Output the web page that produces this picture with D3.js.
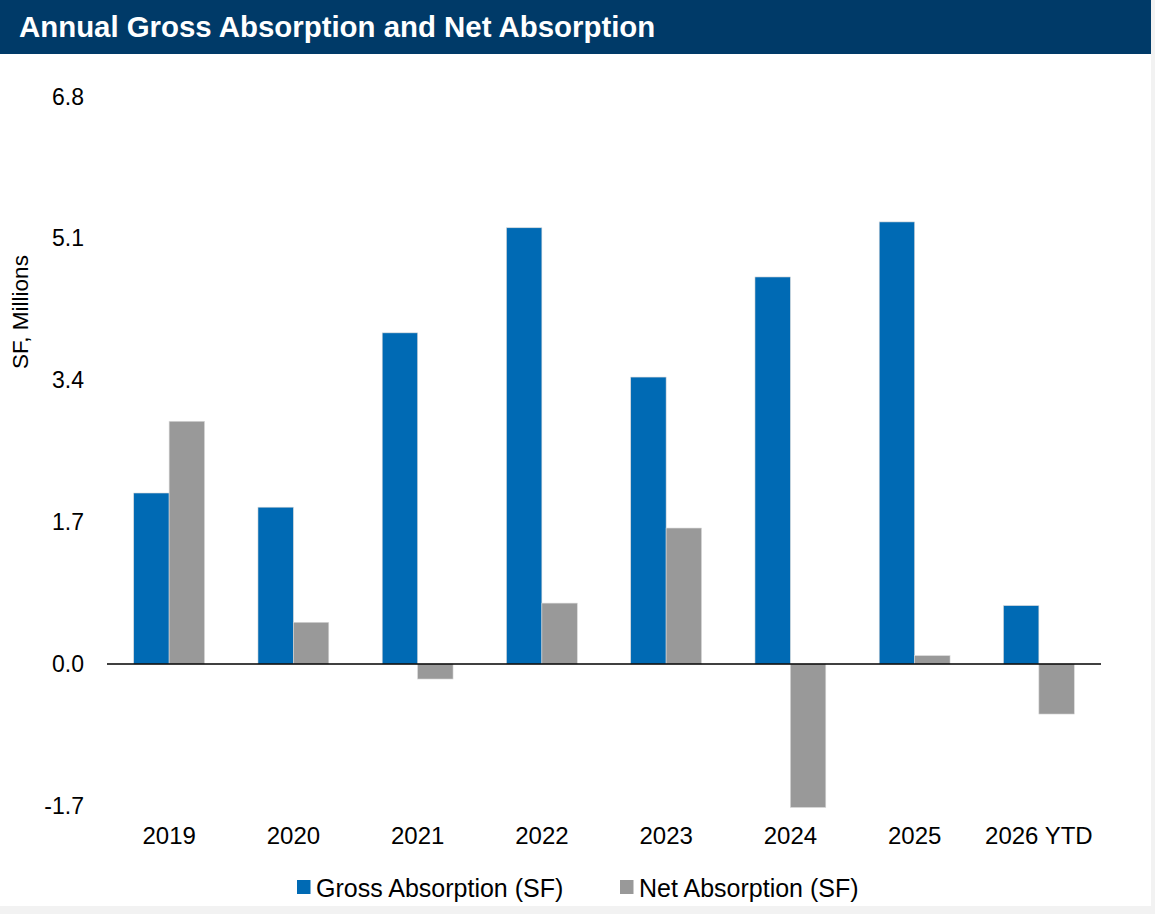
<!DOCTYPE html>
<html>
<head>
<meta charset="utf-8">
<script src="https://cdn.jsdelivr.net/npm/d3@7"></script>
<style>
  body { margin: 0; background: #f2f2f2; font-family: "Liberation Sans", Arial, sans-serif; }
  #chart { display: block; }
</style>
</head>
<body>
<svg id="chart" width="1155" height="914"></svg>
<script>
// chart data
var categories = ["2019", "2020", "2021", "2022", "2023", "2024", "2025", "2026 YTD"];
var grossAbsorption = [2.05, 1.88, 3.97, 5.23, 3.44, 4.64, 5.30, 0.70];
var netAbsorption = [2.91, 0.50, -0.18, 0.73, 1.63, -1.72, 0.10, -0.60];
var yTicks = [-1.7, 0.0, 1.7, 3.4, 5.1, 6.8];
var seriesNames = ["Gross Absorption (SF)", "Net Absorption (SF)"];
var seriesColors = ["#006ab4", "#999999"];

var svg = d3.select("#chart");

// white panel + title bar
svg.append("rect").attr("x", 0).attr("y", 0).attr("width", 1151).attr("height", 906).attr("fill", "#fff");
svg.append("rect").attr("x", 0).attr("y", 0).attr("width", 1151).attr("height", 54).attr("fill", "#003a68");
svg.append("text")
  .attr("x", 19).attr("y", 37)
  .attr("fill", "#fff")
  .attr("font-size", 29.4).attr("font-weight", "bold")
  .text("Annual Gross Absorption and Net Absorption");

var plot = {left: 107, right: 1101, top: 96.8, bottom: 805.8};

var x = d3.scaleBand().domain(categories).range([plot.left, plot.right]).paddingInner(0.43).paddingOuter(0.215);
var xs = d3.scaleBand().domain([0, 1]).range([0, x.bandwidth()]);
var y = d3.scaleLinear().domain([-1.7, 6.8]).range([plot.bottom, plot.top]);

// bars
var series = [grossAbsorption, netAbsorption];
series.forEach(function(vals, si) {
  svg.append("g").selectAll("rect")
    .data(vals)
    .join("rect")
    .attr("x", function(d, i) { return x(categories[i]) + xs(si); })
    .attr("width", xs.bandwidth())
    .attr("y", function(d) { return y(Math.max(0, d)); })
    .attr("height", function(d) { return Math.abs(y(d) - y(0)); })
    .attr("fill", seriesColors[si])
    .attr("stroke", "#d9d9d9")
    .attr("stroke-width", 0.6);
});

// zero line
svg.append("line")
  .attr("x1", plot.left).attr("x2", plot.right)
  .attr("y1", y(0)).attr("y2", y(0))
  .attr("stroke", "#000").attr("stroke-width", 1.3);

// y tick labels (plain hyphen for negatives, like the original)
var fmt = d3.format(".1f");
var yAxis = d3.axisLeft(y).tickValues(yTicks)
  .tickFormat(function(d) { return fmt(d).replace("\u2212", "-"); })
  .tickSize(0).tickPadding(0);
var gy = svg.append("g").attr("transform", "translate(84,0)").call(yAxis);
gy.select(".domain").remove();
gy.selectAll("text").attr("font-size", 23).attr("font-family", "Liberation Sans, Arial, sans-serif").attr("fill", "#000");

// x labels
var xAxis = d3.axisBottom(x).tickSize(0).tickPadding(0);
var gx = svg.append("g").attr("transform", "translate(0,844)").call(xAxis);
gx.select(".domain").remove();
gx.selectAll("text").attr("y", 0).attr("dy", 0)
  .attr("font-size", 24).attr("font-family", "Liberation Sans, Arial, sans-serif").attr("fill", "#000");

// y axis title
svg.append("text")
  .attr("transform", "translate(28,312) rotate(-90)")
  .attr("text-anchor", "middle")
  .attr("font-size", 22.5)
  .attr("fill", "#000")
  .text("SF, Millions");

// legend
var legendX = [297, 620];
var legend = svg.append("g").selectAll("g")
  .data(seriesNames)
  .join("g")
  .attr("transform", function(d, i) { return "translate(" + legendX[i] + ",880)"; });
legend.append("rect").attr("width", 13.5).attr("height", 14).attr("fill", function(d, i) { return seriesColors[i]; });
legend.append("text")
  .attr("x", 19).attr("y", 16.5)
  .attr("font-size", 25)
  .attr("fill", "#000")
  .text(function(d) { return d; });
</script>
</body>
</html>
